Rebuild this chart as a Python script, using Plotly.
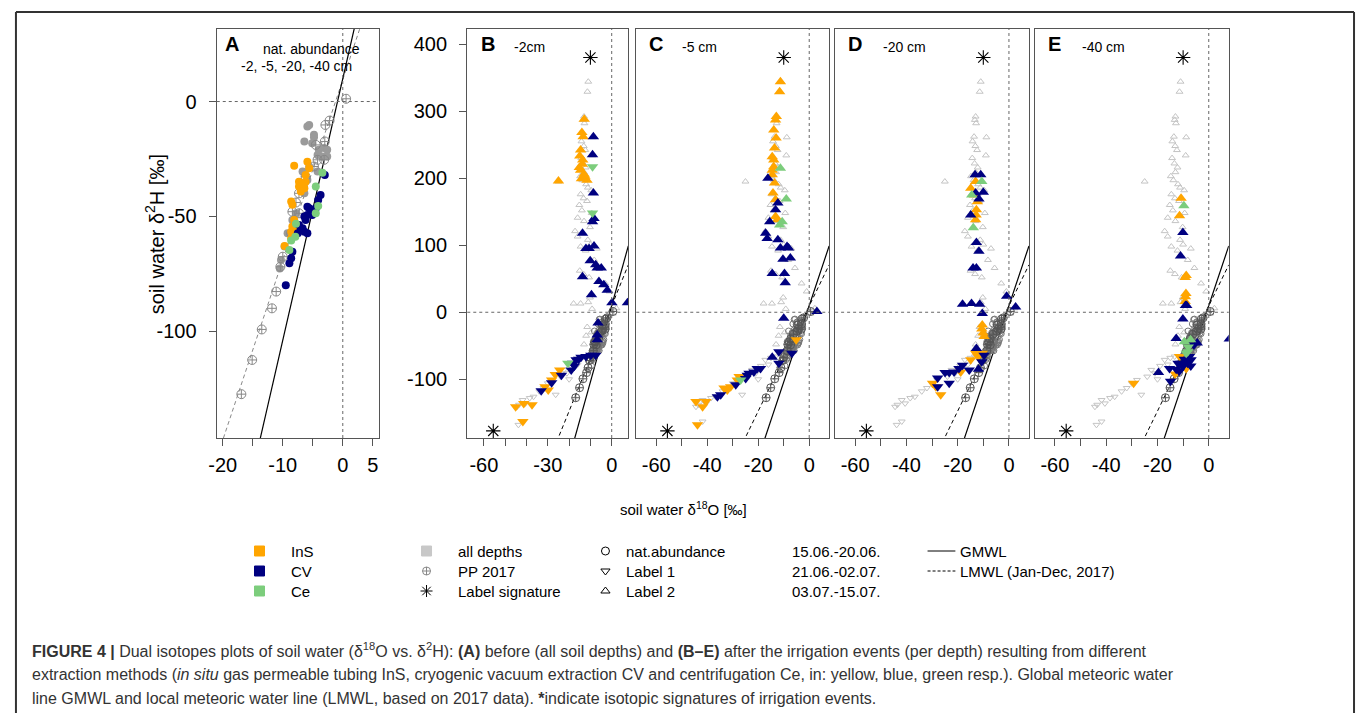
import plotly.graph_objects as go

# --- data ---

# panel A, natural abundance (filled circles)
a_all = [(-5.9, -10.9), (-5.6, -10.2), (-4.8, -14.5), (-4.8, -15.6), (-6.4, -17.4), (-5.1, -18.2),
         (-4.0, -21.0), (-3.1, -20.3), (-2.6, -21.0), (-3.4, -24.0), (-4.2, -23.3), (-2.6, -24.0),
         (-4.2, -30.5), (-5.6, -28.3), (-6.7, -30.5), (-5.9, -34.2), (-6.7, -37.0), (-6.4, -40.0),
         (-7.8, -48.7), (-8.4, -51.6), (-9.2, -57.4), (-9.7, -63.2), (-10.3, -69.0), (-10.5, -72.7)]
a_ins = [(-8.1, -28.0), (-5.9, -26.2), (-5.6, -29.1), (-6.2, -32.0), (-7.3, -34.9), (-6.7, -35.6),
         (-7.3, -37.0), (-6.4, -37.8), (-7.0, -39.2), (-6.2, -34.9), (-8.6, -43.6), (-8.4, -45.0),
         (-8.1, -51.6), (-8.4, -54.5), (-8.6, -56.7), (-8.6, -59.6), (-9.7, -62.9), (-7.8, -55.2)]
a_cv = [(-3.0, -32.0), (-3.7, -40.7), (-4.1, -42.9), (-4.5, -46.5), (-5.6, -46.5), (-5.9, -49.4),
        (-5.1, -49.4), (-6.4, -50.1), (-6.2, -51.6), (-7.3, -53.8), (-7.0, -56.0), (-6.4, -56.7),
        (-5.9, -57.4), (-7.5, -57.4), (-8.4, -65.4), (-8.6, -68.3), (-8.9, -70.5), (-9.5, -80.0),
        (-5.9, -45.8), (-6.7, -55.2)]
a_ce = [(-3.4, -31.0), (-4.5, -37.0), (-4.1, -45.5), (-4.5, -48.7), (-7.8, -53.3), (-7.9, -58.9),
        (-8.6, -60.6), (-8.9, -64.7)]

# precipitation PP 2017
pp = [(0.55, 1.2), (-2.2, -8.3), (-2.9, -10.2), (-3.0, -17.4), (-4.5, -18.9), (-3.1, -25.4),
      (-4.2, -25.4), (-4.8, -28.3), (-6.2, -32.7), (-7.3, -40.0), (-7.8, -44.0), (-8.4, -48.0),
      (-7.3, -48.7), (-8.6, -57.4), (-10.0, -67.6), (-10.4, -72.0), (-11.1, -82.8), (-11.8, -90.1),
      (-13.5, -99.3), (-15.1, -112.6), (-16.9, -127.5)]

# all depths after labelling (light grey background in B-E)
bg_up = [(-11.0, 344), (-11.4, 329), (-13.0, 292), (-13.3, 287), (-12.8, 282), (-8.8, 261), (-13.6, 262),
         (-14.2, 255), (-13.1, 248), (-12.4, 242), (-9.0, 234), (-14.3, 230), (-13.4, 222), (-12.2, 216),
         (-13.0, 209), (-14.8, 203), (-13.8, 197), (-12.0, 191), (-11.2, 186), (-9.6, 182), (-14.6, 176),
         (-13.2, 170), (-11.6, 166), (-15.2, 160), (-14.0, 152), (-9.4, 148), (-16.0, 141), (-13.0, 136),
         (-10.2, 127), (-17.2, 121), (-16.0, 113), (-11.2, 108), (-10.0, 101), (-14.6, 98), (-7.0, 95),
         (-12.2, 92), (-8.2, 78), (-5.6, 66), (-15.0, 62), (-13.2, 57), (-10.6, 52), (-3.0, 43), (-1.0, 31),
         (-25.0, 195), (-17.9, 13), (-14.6, 13), (-11.0, 15), (-10.2, 22), (-9.2, 5), (2.2, 6), (0.5, -2),
         (-11.5, -22), (-12.0, -35), (-13.0, -48), (-9.6, -30), (-6.0, -55)]
bg_dn = [(-44.4, -141), (-43.5, -138), (-41.8, -131), (-40.5, -136), (-38.5, -128), (-36.7, -126),
         (-34.0, -118), (-32.0, -113), (-30.0, -106), (-28.0, -101), (-26.3, -123), (-24.0, -96),
         (-22.4, -86), (-21.0, -91), (-19.0, -80), (-17.2, -71), (-15.0, -68), (-13.3, -66),
         (-43.8, -168), (-41.8, -163), (-20.0, -100), (-16.0, -78)]

# B: -2 cm
b_ins_up = [(-12.9, 288), (-14.0, 268), (-13.4, 262), (-14.6, 242), (-15.0, 233), (-13.8, 221), (-14.6, 212),
            (-13.0, 206), (-14.2, 199), (-11.6, 197), (-12.6, 203), (-15.2, 216), (-13.6, 227), (-25.0, 196)]
b_ins_dn = [(-24.4, -86), (-28.2, -101), (-31.3, -111), (-29.8, -116), (-45.1, -141), (-41.3, -136),
            (-37.4, -138), (-41.7, -163), (-26.5, -93)]
b_cv_up = [(-8.6, 262), (-9.0, 235), (-8.6, 178), (-8.3, 140), (-9.0, 135), (-13.7, 118), (-12.1, 95),
           (-10.6, 95), (-8.3, 99), (-10.1, 77), (-7.5, 71), (-6.8, 66), (-4.9, 66), (-13.7, 53), (-6.0, 46),
           (-3.7, 41), (-2.1, 33), (-9.5, 26), (0.1, 14), (7.4, 14), (-6.4, -16), (-6.8, -34), (-6.8, -41)]
b_cv_dn = [(-7.5, -64), (-9.8, -64), (-12.1, -66), (-14.4, -67), (-16.7, -71), (-18.3, -76), (-19.0, -86),
           (-23.6, -94), (-28.2, -105), (-33.1, -117), (-15.5, -70), (-17.5, -80)]
b_ce_up = []
b_ce_dn = [(-9.0, 217), (-9.0, 148), (-20.6, -76)]

# C: -5 cm
c_ins_up = [(-11.3, 344), (-11.6, 329), (-12.9, 292), (-13.2, 287), (-13.9, 272), (-13.0, 260), (-13.6, 245),
            (-14.5, 232), (-13.9, 227), (-13.9, 217), (-14.5, 212), (-14.5, 205), (-13.6, 193), (-14.2, 178),
            (-13.2, 168), (-13.2, 143), (-12.6, 138)]
c_ins_dn = [(-5.1, -41), (-27.5, -96), (-28.2, -101), (-30.8, -111), (-33.4, -113), (-32.1, -116),
            (-44.4, -133), (-40.5, -133), (-41.8, -141), (-43.8, -168)]
c_cv_up = [(-16.2, 200), (-12.3, 163), (-13.2, 153), (-15.5, 135), (-17.1, 118), (-16.5, 110), (-12.3, 108),
           (-11.3, 96), (-8.7, 98), (-8.1, 96), (-10.3, 79), (-7.4, 81), (-14.5, 58), (-9.7, 58), (-9.4, 44),
           (3.0, 1), (-10.0, -9), (-14.5, -67)]
c_cv_dn = [(-11.9, -59), (-11.9, -76), (-6.8, -61), (-20.4, -84), (-19.1, -84), (-21.7, -89), (-23.6, -91),
           (-24.3, -94), (-24.9, -99), (-28.8, -108), (-34.7, -123), (-36.0, -126)]
c_ce_up = [(-11.3, 215), (-9.0, 169), (-10.6, 135), (-11.6, 130)]
c_ce_dn = [(-26.9, -101)]

# D: -20 cm
d_ins_up = [(-13.0, 195), (-14.9, 185), (-12.3, 165), (-12.7, 153), (-13.0, 138), (-13.4, 175), (-12.8, 145),
            (-10.4, -19), (-10.1, -31), (-9.7, -36), (-10.6, -25)]
d_ins_dn = [(-13.0, -61), (-10.4, -61), (-14.9, -71), (-18.8, -89), (-29.8, -106), (-26.6, -123),
            (-28.5, -111), (-12.0, -66)]
d_cv_up = [(-13.2, 205), (-11.0, 205), (-13.0, 178), (-10.0, 179), (-11.7, 169), (-14.9, 145), (-12.7, 104),
           (-11.7, 91), (-14.0, 66), (-12.7, 66), (-18.1, 12), (-14.6, 13), (-11.4, 12), (-10.4, -2),
           (-0.9, 24), (2.6, 8), (-12.7, -54), (-11.9, -85)]
d_cv_dn = [(-27.8, -98), (-27.8, -111), (-23.3, -106), (-24.9, -90), (-23.3, -90), (-21.4, -89),
           (-18.1, -79), (-15.5, -86), (-10.6, -74), (-9.7, -64), (-19.5, -84)]
d_ce_up = [(-10.6, 195), (-14.5, 175), (-13.9, 126)]
d_ce_dn = []

# E: -40 cm
e_ins_up = [(-10.8, 170), (-11.4, 144), (-9.2, 52), (-8.8, 55), (-9.1, 23), (-9.2, 16), (-8.9, 28)]
e_ins_dn = [(-11.4, -66), (-13.1, -92), (-29.3, -106), (-8.8, -84)]
e_cv_up = [(-10.1, 119), (-11.0, 84), (-9.1, 10), (-8.6, 10), (-10.1, -10), (-12.7, -39), (-4.5, -46),
           (-19.6, -90), (8.0, -40)]
e_cv_dn = [(-14.9, -103), (-15.3, -84), (-12.7, -85), (-10.1, -81), (-8.2, -76), (-6.9, -71), (-7.5, -66),
           (-10.8, -76), (-8.8, -74), (-12.0, -76), (-5.8, -49), (-9.5, -70), (-7.0, -80), (-11.5, -88)]
e_ce_up = [(-9.7, 159), (-9.5, -44), (-7.1, -41)]
e_ce_dn = [(-8.2, -59), (-8.8, -61), (-8.0, -52)]

# irrigation label signatures
signature = [(-10.0, 380), (-55.6, -177)]

# water lines as drawn (slope, intercept)
solid_line = (11.4, 10.0)
dashed_line = (7.85, 9.5)

panel_letters = ["A", "B", "C", "D", "E"]
depth_labels = ["", "-2cm", "-5 cm", "-20 cm", "-40 cm"]

# --- layout helpers ---
W, H = 1357, 713
TOP, BOT = 29, 438
boxes = [(210, 373), (462, 624), (632, 826), (832, 1027), (1033, 1228)]
xr_a, yr_a = [-21, 6], [-146.6, 31.6]
xr_b, yr_b = [-67.8, 7.8], [-187.6, 422.6]

ORANGE, NAVY, GREEN = "#FFA500", "#000080", "#7CCD7C"
FONT = "Liberation Sans, Arial, sans-serif"

def fx(p):
    return p / W

def fy(p):
    return 1 - p / H

fig = go.Figure()

def pts(arr):
    return [p[0] for p in arr], [p[1] for p in arr]

def add(arr, i, symbol, color, size, lw=0, lcolor=None):
    if not arr:
        return
    xs, ys = pts(arr)
    ax = "" if i == 0 else str(i + 1)
    fig.add_trace(go.Scatter(
        x=xs, y=ys, mode="markers", xaxis="x" + ax, yaxis="y" + ax, showlegend=False,
        marker=dict(symbol=symbol, color=color, size=size,
                    line=dict(width=lw, color=lcolor or color))))

def add_line(coef, xr, i, color, dash, width):
    ax = "" if i == 0 else str(i + 1)
    xs = [xr[0], xr[1]]
    ys = [coef[0] * v + coef[1] for v in xs]
    fig.add_trace(go.Scatter(x=xs, y=ys, mode="lines", xaxis="x" + ax, yaxis="y" + ax,
                             showlegend=False, line=dict(color=color, dash=dash, width=width)))

# panel A
add_line(dashed_line, xr_a, 0, "#888888", "4px,3px", 1)
add_line(solid_line, xr_a, 0, "black", "solid", 1.2)
add(a_all, 0, "circle", "#9a9a9a", 8)
add(pp, 0, "circle-cross-open", "#888888", 9, 1)
add(a_ins, 0, "circle", ORANGE, 8)
add(a_cv, 0, "circle", NAVY, 8)
add(a_ce, 0, "circle", GREEN, 8)

nat_all = a_all + a_ins + a_cv + a_ce
panel_sets = [
    (b_ins_up, b_ins_dn, b_cv_up, b_cv_dn, b_ce_up, b_ce_dn),
    (c_ins_up, c_ins_dn, c_cv_up, c_cv_dn, c_ce_up, c_ce_dn),
    (d_ins_up, d_ins_dn, d_cv_up, d_cv_dn, d_ce_up, d_ce_dn),
    (e_ins_up, e_ins_dn, e_cv_up, e_cv_dn, e_ce_up, e_ce_dn),
]
for k, sets in enumerate(panel_sets):
    i = k + 1
    add_line(dashed_line, xr_b, i, "black", "4px,3px", 1)
    add_line(solid_line, xr_b, i, "black", "solid", 1.2)
    add(bg_up, i, "triangle-up-open", "#c4c4c4", 6, 1)
    add(bg_dn, i, "triangle-down-open", "#c4c4c4", 6, 1)
    add(nat_all, i, "circle-open", "#777777", 6, 1)
    add(pp, i, "circle-cross-open", "#555555", 8, 1)
    ins_up, ins_dn, cv_up, cv_dn, ce_up, ce_dn = sets
    add(ins_up, i, "triangle-up", ORANGE, 10)
    add(ins_dn, i, "triangle-down", ORANGE, 10)
    add(cv_up, i, "triangle-up", NAVY, 10)
    add(cv_dn, i, "triangle-down", NAVY, 10)
    add(ce_up, i, "triangle-up", GREEN, 10)
    add(ce_dn, i, "triangle-down", GREEN, 10)
    add(signature, i, "asterisk-open", "black", 12, 1.1)

axis_common = dict(showline=True, mirror=True, linecolor="#555555", linewidth=1.3,
                   ticks="outside", ticklen=7, tickcolor="#555555", showgrid=False, zeroline=False,
                   tickfont=dict(family=FONT, size=20, color="black"))

layout = dict(width=W, height=H, margin=dict(l=0, r=0, t=0, b=0),
              paper_bgcolor="white", plot_bgcolor="rgba(0,0,0,0)")

minor_style = dict(ticks="outside", ticklen=7, tickcolor="#555555", showgrid=False)

for i, (l, r) in enumerate(boxes):
    ax = "" if i == 0 else str(i + 1)
    if i == 0:
        xa = dict(range=xr_a, tickvals=[-20, -10, 0, 5], ticktext=["-20", "-10", "0", "5"],
                  minor=dict(tickvals=[-15, -5], **minor_style))
        ya = dict(range=yr_a, tickvals=[-100, -50, 0], ticktext=["-100", "-50", "0"])
    else:
        if i == 1:
            xa = dict(range=xr_b, tickvals=[-60, -30, 0], ticktext=["-60", "-30", "0"],
                      minor=dict(tickvals=[-50, -40, -20, -10], **minor_style))
            ya = dict(range=yr_b, tickvals=[-100, 0, 100, 200, 300, 400],
                      ticktext=["-100", "0", "100", "200", "300", "400"])
        else:
            xa = dict(range=xr_b, tickvals=[-60, -40, -20, 0], ticktext=["-60", "-40", "-20", "0"],
                      minor=dict(tickvals=[-50, -30, -10], **minor_style))
            ya = dict(range=yr_b, showticklabels=False, ticks="")
    xa.update(domain=[fx(l), fx(r)], anchor="y" + ax, ticklabelstandoff=2)
    ya.update(domain=[fy(BOT), fy(TOP)], anchor="x" + ax, ticklabelstandoff=8)
    layout["xaxis" + ax] = {**axis_common, **xa}
    layout["yaxis" + ax] = {**axis_common, **ya}

# overlay axis in pixel units for the legend keys
layout["xaxis6"] = dict(domain=[0, 1], range=[0, W], visible=False, anchor="y6")
layout["yaxis6"] = dict(domain=[0, 1], range=[H, 0], visible=False, anchor="x6")
fig.update_layout(**layout)

# dotted zero lines
for i in range(5):
    ax = "" if i == 0 else str(i + 1)
    fig.add_shape(type="line", xref="x" + ax, yref="y" + ax + " domain", x0=0, x1=0, y0=0, y1=1,
                  line=dict(color="#666666", width=1, dash="dot"))
    fig.add_shape(type="line", xref="x" + ax + " domain", yref="y" + ax, x0=0, x1=1, y0=0, y1=0,
                  line=dict(color="#666666", width=1, dash="dot"))

ann = []

def text(x, y, s, size=15, anchor="left", color="black", angle=0):
    ann.append(dict(x=fx(x), y=fy(y), xref="paper", yref="paper", text=s, showarrow=False,
                    xanchor=anchor, yanchor="middle", textangle=angle,
                    font=dict(family=FONT, size=size, color=color)))

letter_x = [225, 483, 652, 852, 1053]
depth_x = [0, 525, 696, 902, 1102]
for i in range(5):
    text(letter_x[i], 44, "<b>" + panel_letters[i] + "</b>", 20, "center")
    if depth_labels[i]:
        text(depth_x[i], 47, depth_labels[i], 14, "center")
text(305, 49, "nat. abundance", 14, "center")
text(290, 66, "-2, -5, -20, -40 cm", 14, "center")

text(147, 234, "soil water δ<sup>2</sup>H [‰]", 20, "center", angle=-90)
text(680, 508, "soil water δ<sup>18</sup>O [‰]", 15, "center")

# legend keys
rows = [551, 571, 591]
key_sets = [
    ([253] * 3, rows, ["square"] * 3, [ORANGE, NAVY, GREEN], 10),
    ([421], rows[:1], ["square"], ["#c8c8c8"], 10),
    ([421], rows[1:2], ["circle-cross-open"], ["#888888"], 8),
    ([421], rows[2:3], ["asterisk-open"], ["black"], 10),
    ([601] * 3, rows, ["circle-open", "triangle-down-open", "triangle-up-open"], ["black"] * 3, 8),
]
for xs, ys, sym, col, size in key_sets:
    fig.add_trace(go.Scatter(x=xs, y=ys, mode="markers", xaxis="x6", yaxis="y6", showlegend=False,
                             marker=dict(symbol=sym, color=col, size=size, line=dict(width=1, color=col))))
fig.add_trace(go.Scatter(x=[925, 953], y=[551, 551], mode="lines", xaxis="x6", yaxis="y6",
                         showlegend=False, line=dict(color="black", width=1)))
fig.add_trace(go.Scatter(x=[925, 953], y=[571, 571], mode="lines", xaxis="x6", yaxis="y6",
                         showlegend=False, line=dict(color="black", width=1, dash="3px,2px")))

for s, y in zip(["InS", "CV", "Ce"], rows):
    text(283, y, s)
for s, y in zip(["all depths", "PP 2017", "Label signature"], rows):
    text(451, y, s)
for s, y in zip(["nat.abundance", "Label 1", "Label 2"], rows):
    text(620, y, s)
for s, y in zip(["15.06.-20.06.", "21.06.-02.07.", "03.07.-15.07."], rows):
    text(787, y, s)
text(956, rows[0], "GMWL")
text(956, rows[1], "LMWL (Jan-Dec, 2017)")

# caption
cap = [
    "<b>FIGURE 4 |</b> Dual isotopes plots of soil water (δ<sup>18</sup>O vs. δ<sup>2</sup>H): <b>(A)</b> before "
    "(all soil depths) and <b>(B–E)</b> after the irrigation events (per depth) resulting from different",
    "extraction methods (<i>in situ</i> gas permeable tubing InS, cryogenic vacuum extraction CV and "
    "centrifugation Ce, in: yellow, blue, green resp.). Global meteoric water",
    "line GMWL and local meteoric water line (LMWL, based on 2017 data). <b>*</b>indicate isotopic "
    "signatures of irrigation events.",
]
for s, y in zip(cap, [650, 674, 698]):
    text(22, y, s, 16, "left", "#333333")

fig.update_layout(annotations=ann)

# outer frame
for x0, y0, x1, y1 in [(8, 12, 8, H), (8, 12, 1354, 12), (1354, 12, 1354, H)]:
    fig.add_shape(type="line", xref="paper", yref="paper", x0=fx(x0), y0=fy(y0), x1=fx(x1), y1=fy(y1),
                  line=dict(color="#333333", width=2))

fig.write_html("out.html", config={"displayModeBar": False},
               post_script="document.body.style.margin='0';")
